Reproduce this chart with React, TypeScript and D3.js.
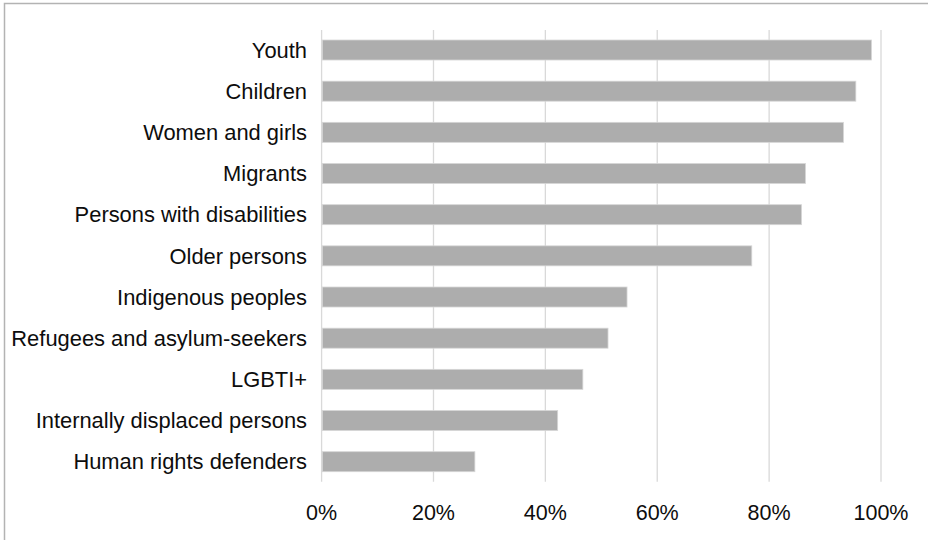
import React from "react";
import * as d3 from "d3";

// Share of respondents by group
const categories: string[] = [
  "Youth",
  "Children",
  "Women and girls",
  "Migrants",
  "Persons with disabilities",
  "Older persons",
  "Indigenous peoples",
  "Refugees and asylum-seekers",
  "LGBTI+",
  "Internally displaced persons",
  "Human rights defenders",
];

const values: number[] = [
  0.983, 0.955, 0.933, 0.865, 0.858, 0.769, 0.546, 0.512, 0.467, 0.422, 0.274,
];

const xTicks: number[] = [0, 0.2, 0.4, 0.6, 0.8, 1.0];

const W = 928;
const H = 540;
const FONT = "'Liberation Sans', Arial, sans-serif";

export default function App() {
  const x = d3.scaleLinear().domain([0, 1]).range([321.6, 881]);
  const y = d3
    .scaleBand<string>()
    .domain(categories)
    .range([30, 481.7])
    .paddingInner(0.514)
    .paddingOuter(0.243);

  const fmt = d3.format(".0%");
  const [y0, y1] = y.range();

  return (
    <svg
      width={W}
      height={H}
      style={{ position: "absolute", left: 0, top: 0, background: "#fff" }}
      fontFamily={FONT}
    >
      {/* frame */}
      <rect
        x={4.5}
        y={3.5}
        width={W + 20}
        height={H + 20}
        fill="none"
        stroke="#b3b3b3"
        strokeWidth={1.5}
      />

      {/* vertical gridlines */}
      {xTicks.map((t) => (
        <line
          key={t}
          x1={x(t)}
          x2={x(t)}
          y1={y0}
          y2={y1}
          stroke="#d9d9d9"
          strokeWidth={1.3}
        />
      ))}

      {/* bars */}
      {categories.map((c, i) => (
        <rect
          key={c}
          x={x(0) + 0.7}
          y={y(c)!}
          width={x(values[i]) - x(0) - 0.7}
          height={y.bandwidth()}
          fill="#adadad"
          stroke="#d6d6d6"
          strokeWidth={0.8}
        />
      ))}

      {/* category labels */}
      {categories.map((c) => (
        <text
          key={c}
          x={307}
          y={y(c)! + y.bandwidth() / 2}
          dy="0.35em"
          textAnchor="end"
          fontSize={21.9}
          fill="#0d0d0d"
        >
          {c}
        </text>
      ))}

      {/* x tick labels */}
      {xTicks.map((t) => (
        <text
          key={t}
          x={x(t)}
          y={520}
          textAnchor="middle"
          fontSize={21.5}
          fill="#0d0d0d"
        >
          {fmt(t)}
        </text>
      ))}
    </svg>
  );
}
